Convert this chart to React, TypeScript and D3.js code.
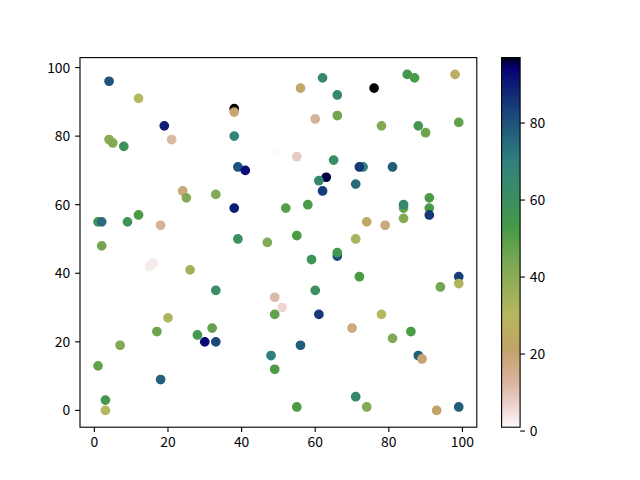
import React from "react";
import * as d3 from "d3";

const xs = [4,12,38,38,19,4,5,8,21,38,49,39,41,24,25,33,38,52,1,2,9,12,18,39,47,2,62,56,66,76,85,87,98,60,66,78,88,90,99,55,65,73,72,81,63,61,62,71,58,84,84,91,91,91,84,74,79,55,71,15,16,26,33,49,51,49,20,17,28,32,30,33,7,1,18,48,49,3,3,66,66,59,72,99,99,94,60,61,78,70,81,86,56,88,89,71,55,74,93,99];
const ys = [96,91,88,87,83,79,78,77,79,80,75,71,70,64,62,63,59,59,55,55,55,57,54,50,49,48,97,94,92,94,98,97,98,85,86,83,83,81,84,74,73,71,71,71,68,67,64,66,60,59,60,62,59,57,56,55,54,51,50,42,43,41,35,33,30,28,27,23,22,24,20,20,19,13,9,16,12,3,0,45,46,44,39,39,37,36,35,28,28,24,21,23,19,16,15,4,1,1,0,1];
const cs = [80,30,97,20,90,40,42,58,12,68,1,80,92,18,42,42,90,50,58,75,58,52,14,60,42,45,65,22,65,97,55,52,26,14,45,42,55,46,48,8,62,68,85,78,96,65,84,75,52,48,65,52,52,85,42,24,18,52,33,3,3,35,62,12,6,48,32,46,55,48,93,82,42,48,77,70,52,55,30,82,55,57,52,84,32,45,60,85,30,18,42,52,78,78,20,65,52,42,22,78];

const cbTicks = [0, 20, 40, 60, 80];
const xTicks = [0, 20, 40, 60, 80, 100];
const yTicks = [0, 20, 40, 60, 80, 100];

// matplotlib gist_earth segment data
const R: [number, number][] = [[0,0],[0.2824,0.1882],[0.4588,0.2714],[0.5490,0.4719],[0.6980,0.7176],[0.7882,0.7553],[1,0.9922]];
const G: [number, number][] = [[0,0],[0.0275,0],[0.1098,0.1893],[0.1647,0.3035],[0.2078,0.3841],[0.2824,0.5020],[0.5216,0.6397],[0.6980,0.7171],[0.7882,0.6392],[0.7922,0.6413],[0.8000,0.6447],[0.8078,0.6481],[0.8157,0.6549],[0.8667,0.6991],[0.8745,0.7103],[0.8824,0.7216],[0.8902,0.7323],[0.8980,0.7430],[0.9412,0.8275],[0.9569,0.8635],[0.9647,0.8816],[0.9961,0.9733],[1,0.9843]];
const B: [number, number][] = [[0,0],[0.0039,0.1684],[0.0078,0.2212],[0.0275,0.4329],[0.0314,0.4549],[0.2824,0.5004],[0.4667,0.2748],[0.5451,0.3205],[0.7843,0.3961],[0.8941,0.6651],[1,0.9843]];

function seg(s: [number, number][], t: number) {
  for (let i = 1; i < s.length; i++) {
    if (t <= s[i][0]) {
      const [x0, y0] = s[i - 1];
      const [x1, y1] = s[i];
      return y0 + ((t - x0) / (x1 - x0)) * (y1 - y0);
    }
  }
  return s[s.length - 1][1];
}
function gistEarthR(t: number) {
  const u = 1 - Math.max(0, Math.min(1, t));
  const r = Math.round(seg(R, u) * 255);
  const g = Math.round(seg(G, u) * 255);
  const b = Math.round(seg(B, u) * 255);
  return `rgb(${r},${g},${b})`;
}

const W = 640, H = 480;
const L = 80, Rt = 476.8, T = 57.6, Bt = 427.2;
const cbL = 501.6, cbW = 18.5;
const font = "'Noto Sans CJK SC', 'DejaVu Sans', sans-serif";
const fs = 13.9;
const tickLen = 4.86;

export default function App() {
  const xe = d3.extent(xs) as [number, number];
  const ye = d3.extent(ys) as [number, number];
  const xm = (xe[1] - xe[0]) * 0.05, ym = (ye[1] - ye[0]) * 0.05;
  const x = d3.scaleLinear().domain([xe[0] - xm, xe[1] + xm]).range([L, Rt]);
  const y = d3.scaleLinear().domain([ye[0] - ym, ye[1] + ym]).range([Bt, T]);
  const cmax = d3.max(cs) as number;
  const cmin = d3.min(cs) as number;
  const cy = d3.scaleLinear().domain([cmin, cmax]).range([Bt, T]);
  const cnorm = d3.scaleLinear().domain([cmin, cmax]).range([0, 1]);
  const stops = d3.range(0, 129).map((i) => i / 128);

  return (
    <svg width={W} height={H} style={{ position: "absolute", left: 0, top: 0, background: "#fff" }}>
      <defs>
        <linearGradient id="cbar" x1="0" y1="1" x2="0" y2="0">
          {stops.map((s) => (
            <stop key={s} offset={s} stopColor={gistEarthR(s)} />
          ))}
        </linearGradient>
      </defs>
      <rect x={0} y={0} width={W} height={H} fill="#fff" />
      <g>
        {xs.map((xv, i) => (
          <circle key={i} cx={x(xv)} cy={y(ys[i])} r={4.17} fill={gistEarthR(cnorm(cs[i]))} stroke={gistEarthR(cnorm(cs[i]))} strokeWidth={1.39} />
        ))}
      </g>
      <rect x={L} y={T} width={Rt - L} height={Bt - T} fill="none" stroke="#000" strokeWidth={1.11} />
      {xTicks.map((t) => (
        <g key={"x" + t}>
          <line x1={x(t)} x2={x(t)} y1={Bt} y2={Bt + tickLen} stroke="#000" strokeWidth={1.11} />
          <text x={x(t)} y={Bt + tickLen + 4.86 + fs * 0.76} textAnchor="middle" fontFamily={font} fontSize={fs}>{t}</text>
        </g>
      ))}
      {yTicks.map((t) => (
        <g key={"y" + t}>
          <line x1={L - tickLen} x2={L} y1={y(t)} y2={y(t)} stroke="#000" strokeWidth={1.11} />
          <text x={L - tickLen - 4.86} y={y(t)} dy="0.36em" textAnchor="end" fontFamily={font} fontSize={fs}>{t}</text>
        </g>
      ))}
      <rect x={cbL} y={T} width={cbW} height={Bt - T} fill="url(#cbar)" />
      <rect x={cbL} y={T} width={cbW} height={Bt - T} fill="none" stroke="#000" strokeWidth={1.11} />
      {cbTicks.map((t) => (
        <g key={"c" + t}>
          <line x1={cbL + cbW} x2={cbL + cbW + tickLen} y1={cy(t)} y2={cy(t)} stroke="#000" strokeWidth={1.11} />
          <text x={cbL + cbW + tickLen + 4.86} y={cy(t)} dy="0.36em" textAnchor="start" fontFamily={font} fontSize={fs}>{t}</text>
        </g>
      ))}
    </svg>
  );
}
